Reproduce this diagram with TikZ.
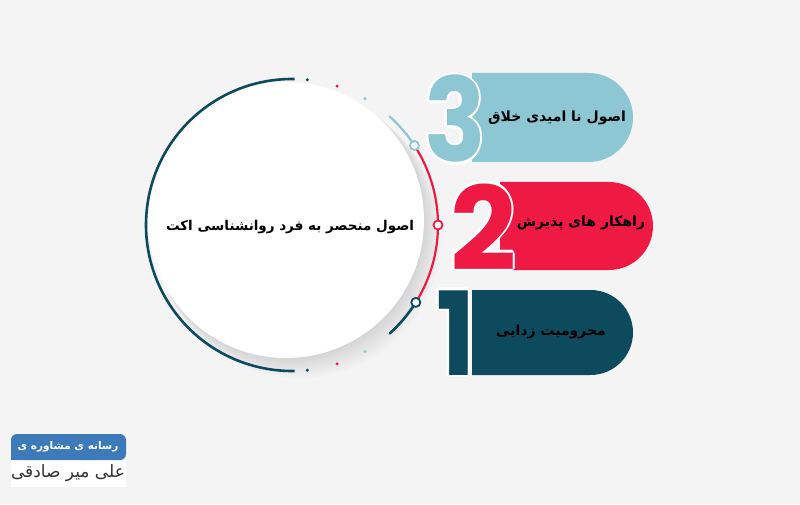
\documentclass[tikz,border=0pt]{standalone}
\usepackage{fontspec}
\TeXXeTstate=1
\newfontfamily\fafont[Script=Arabic]{DejaVu Sans}
\newfontfamily\numfont{Poppins}
\definecolor{lblue}{HTML}{8EC7D4}
\definecolor{cred}{HTML}{EF1A43}
\definecolor{dteal}{HTML}{0E4A5D}
\definecolor{logoblue}{HTML}{3C7AB9}
\definecolor{bg}{HTML}{F4F4F4}
\definecolor{logotext}{HTML}{333333}

\begin{document}
\begin{tikzpicture}[x=1pt, y=1pt,
	marker/.style={circle, draw=#1, fill=white, line width=1.8pt, inner sep=0pt, minimum size=9pt},
	dot/.style={circle, fill=#1, inner sep=0pt, minimum size=3.4pt},
	itemtext/.style={font=\fafont\bfseries\fontsize{14}{16}\selectfont, text=black, inner sep=0pt},
	digit/.style={font=\numfont\bfseries\fontsize{116}{116}\selectfont, inner sep=0pt, anchor=base west},
	pill/.style={fill=#1}]
		\fill[bg] (0,0) rectangle (800,504);
		\useasboundingbox (0,0) rectangle (800,504);
		
		\foreach \i in {1,...,10}
			\fill[black, opacity=0.013] (286+1.3*\i, 284-1.6*\i) circle[radius=138+0.4*\i];
		\node[circle, fill=white, inner sep=0pt, minimum size=276pt] (disk) at (286,284) {};
		\node[itemtext, font=\fafont\bfseries\fontsize{13.5}{16}\selectfont] (title) at (290,277) {\beginR اصول منحصر به فرد روانشناسی اکت\endR};
		
		\coordinate (c) at (292,279);
		\draw[dteal, line width=2.6pt] ([shift={(89:146)}]c) arc[start angle=89, end angle=271, radius=146];
		\draw[lblue, line width=2.2pt, line cap=round] ([shift={(48:146)}]c) arc[start angle=48, end angle=33, radius=146];
		\draw[cred, line width=2.2pt] ([shift={(33:146)}]c) arc[start angle=33, end angle=-32, radius=146];
		\draw[dteal, line width=2.6pt, line cap=round] ([shift={(-32:146)}]c) arc[start angle=-32, end angle=-48, radius=146];
		\node[marker=lblue] (m3) at ([shift={(33:146)}]c) {};
		\node[marker=cred] (m2) at ([shift={(0:146)}]c) {};
		\node[marker=dteal] (m1) at ([shift={(-32:146)}]c) {};
		\foreach \a/\col in {84/dteal, 72/cred, 60/lblue} {
			\node[dot=\col] at ([shift={(\a:146)}]c) {};
			\node[dot=\col] at ([shift={(-\a:146)}]c) {};
		}
		
		\fill[pill=lblue] (472,342) -- (588.5,342) arc[start angle=-90, end angle=90, radius=44.5] -- (472,431) -- cycle;
		\fill[pill=cred] (500,234) -- (609,234) arc[start angle=-90, end angle=90, radius=44] -- (500,322) -- cycle;
		\fill[pill=dteal] (472,129) -- (590.5,129) arc[start angle=-90, end angle=90, radius=42.5] -- (472,214) -- cycle;
		
		\coordinate (p3) at (424,342);
		\coordinate (p2) at (450,234);
		\coordinate (p1) at (436,129);
		\foreach \a in {0,45,...,315} {
			\node[digit, text=white, xscale=0.88] at ([shift={(\a:2.4)}]p3) {3};
			\node[digit, text=white] at ([shift={(\a:2.4)}]p2) {2};
			\node[digit, text=white, xscale=0.9] at ([shift={(\a:2.4)}]p1) {1};
		}
		\node[digit, text=lblue, xscale=0.88] (n3) at (p3) {3};
		\node[digit, text=cred] (n2) at (p2) {2};
		\node[digit, text=dteal, xscale=0.9] (n1) at (p1) {1};
		
		\node[itemtext] (t3) at (557,386) {\beginR اصول نا امیدی خلاق\endR};
		\node[itemtext] (t2) at (581,281) {\beginR راهکار های پذیرش\endR};
		\node[itemtext] (t1) at (551,172) {\beginR محرومیت زدایی\endR};
		
		\fill[white] (11,17) rectangle (126,44);
		\fill[logoblue, rounded corners=6pt] (11,44) -- (11,70) -- (126,70) -- (126,44) [sharp corners] -- cycle;
		\node[font=\fafont\bfseries\fontsize{10.5}{12}\selectfont, text=white] (brand) at (68,57) {\beginR رسانه ی مشاوره ی\endR};
		\node[font=\fafont\fontsize{17}{19}\selectfont, text=logotext] (author) at (68,31) {\beginR علی میر صادقی\endR};
	\end{tikzpicture}
\end{document}
